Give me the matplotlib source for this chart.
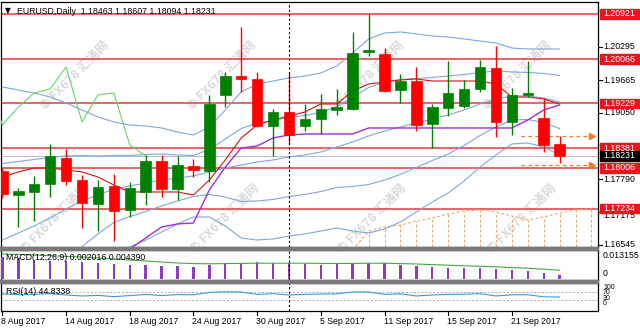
import numpy as np
import matplotlib
matplotlib.use("Agg")
import matplotlib.pyplot as plt
from matplotlib.patches import Rectangle
from matplotlib.transforms import blended_transform_factory as blend

# ---------------- data ----------------
date_labels = ["8 Aug 2017", "14 Aug 2017", "18 Aug 2017", "24 Aug 2017", "30 Aug 2017",
               "5 Sep 2017", "11 Sep 2017", "15 Sep 2017", "21 Sep 2017"]
date_idx = [0, 4, 8, 12, 16, 20, 24, 28, 32]

opens = [1.17947, 1.17492, 1.17549, 1.17700, 1.18193, 1.17776, 1.17321, 1.17662, 1.17208, 1.17549,
         1.18136, 1.17606, 1.18041, 1.17947, 1.19386, 1.19746, 1.19689, 1.18799, 1.19064, 1.18799,
         1.18931, 1.19102, 1.19121, 1.20200, 1.20162, 1.19481, 1.19651, 1.18837, 1.19140, 1.19178,
         1.19500, 1.19897, 1.18875, 1.19386, 1.18950, 1.18463]
highs = [1.18003, 1.17624, 1.17852, 1.18458, 1.18363, 1.17871, 1.17776, 1.17890, 1.17738, 1.18250,
         1.18250, 1.18231, 1.18174, 1.19386, 1.19822, 1.20674, 1.19822, 1.19121, 1.19803, 1.19215,
         1.19405, 1.19500, 1.20579, 1.20921, 1.20276, 1.19784, 1.19916, 1.19215, 1.20030, 1.19670,
         1.20049, 1.20314, 1.19519, 1.20030, 1.19329, 1.18607]
lows = [1.17435, 1.16886, 1.17000, 1.17454, 1.17681, 1.16867, 1.16810, 1.16621, 1.17075, 1.17302,
        1.17454, 1.17397, 1.17833, 1.17738, 1.19159, 1.19443, 1.18780, 1.18231, 1.18477, 1.18704,
        1.18647, 1.19007, 1.19102, 1.20125, 1.19443, 1.19234, 1.18704, 1.18382, 1.18988, 1.19140,
        1.19443, 1.18590, 1.18628, 1.19348, 1.18306, 1.18094]
closes = [1.17511, 1.17568, 1.17700, 1.18231, 1.17757, 1.17340, 1.17643, 1.17189, 1.17624, 1.18136,
          1.17606, 1.18060, 1.17966, 1.19215, 1.19746, 1.19689, 1.18799, 1.19064, 1.18628, 1.18931,
          1.19121, 1.19159, 1.20181, 1.20238, 1.19462, 1.19651, 1.18818, 1.19159, 1.19424, 1.19500,
          1.19916, 1.18875, 1.19386, 1.19424, 1.18439, 1.18231]

# Bollinger middle line and one standard deviation
bb_mid = [1.16640, 1.16772, 1.16905, 1.17056, 1.17227, 1.17378, 1.17492, 1.17606, 1.17662, 1.17719,
          1.17776, 1.17814, 1.17852, 1.17928, 1.18003, 1.18060, 1.18117, 1.18155, 1.18212, 1.18250,
          1.18306, 1.18401, 1.18496, 1.18609, 1.18704, 1.18780, 1.18856, 1.18931, 1.19007, 1.19102,
          1.19215, 1.19310, 1.19367, 1.19367, 1.19329, 1.19253]
bb_dev = [0.014489, 0.013542, 0.012595, 0.011458, 0.010038, 0.008617, 0.007386, 0.006345, 0.005777,
          0.005398, 0.004924, 0.004356, 0.003883, 0.004261, 0.005492, 0.006913, 0.007386, 0.007481,
          0.007481, 0.007481, 0.007481, 0.007670, 0.008428, 0.009186, 0.009280, 0.008996, 0.008428,
          0.007860, 0.007386, 0.006723, 0.005966, 0.005303, 0.004545, 0.004451, 0.004640, 0.005019]

tenkan = [1.17833, 1.17928, 1.18003, 1.18003, 1.17966, 1.17928, 1.17833, 1.17681, 1.17549, 1.17549,
          1.17549, 1.17549, 1.17492, 1.17776, 1.18155, 1.18572, 1.18818, 1.18912, 1.18988, 1.19064,
          1.19215, 1.19215, 1.19462, 1.19594, 1.19632, 1.19670, 1.19689, 1.19651, 1.19651, 1.19651,
          1.19651, 1.19594, 1.19348, 1.19348, 1.19310, 1.19215]
kijun_idx = list(range(7, 36))
kijun = [1.16223, 1.16469, 1.16678, 1.16886, 1.16943, 1.16962, 1.17587, 1.18023, 1.18382, 1.18420,
         1.18572, 1.18628, 1.18647, 1.18647, 1.18647, 1.18647, 1.18761, 1.18761, 1.18761, 1.18761,
         1.18761, 1.18761, 1.18761, 1.18761, 1.18761, 1.18761, 1.18912, 1.19102, 1.19197]
cloud_idx = list(range(22, 38))
cloud_top = [1.16450, 1.16810, 1.16886, 1.16924, 1.16999, 1.17056, 1.17132, 1.17189, 1.17208, 1.17170,
             1.17094, 1.17019, 1.17075, 1.17151, 1.17208, 1.17227]

macd_hist = [0.0110, 0.0105, 0.0095, 0.0090, 0.0090, 0.0085, 0.0080, 0.0075, 0.0070, 0.0070,
             0.0065, 0.0065, 0.0060, 0.0070, 0.0080, 0.0080, 0.0085, 0.0080, 0.0080, 0.0075,
             0.0070, 0.0075, 0.0080, 0.0080, 0.0080, 0.0070, 0.0065, 0.0060, 0.0055, 0.0055,
             0.0055, 0.0050, 0.0045, 0.0040, 0.0030, 0.002016]
macd_signal = [0.0125, 0.0123, 0.0120, 0.0117, 0.0113, 0.0110, 0.0105, 0.0100, 0.0095, 0.0090,
               0.0085, 0.0080, 0.0077, 0.0076, 0.0077, 0.0078, 0.0079, 0.0079, 0.0079, 0.0079,
               0.0078, 0.0078, 0.0078, 0.0079, 0.0079, 0.0077, 0.0075, 0.0072, 0.0069, 0.0066,
               0.0064, 0.0061, 0.0057, 0.0054, 0.0049, 0.00439]
rsi = [60, 57, 58, 62, 55, 50, 53, 47, 52, 58, 52, 57, 56, 68, 71, 70, 58, 62, 55, 58,
       60, 61, 70, 70, 58, 61, 50, 55, 58, 59, 62, 50, 56, 56, 46, 44.8338]

red_levels = [1.20921, 1.20066, 1.19229, 1.18381, 1.18006, 1.17234]
axis_ticks = [1.20295, 1.19665, 1.19050, 1.17790, 1.16545]
hidden_tick = 1.17175
bid = 1.18231
arrow_levels = [1.18607, 1.18060]
separator_idx = 18

# ---------------- style ----------------
W, H = 640, 330
FONT = "Liberation Sans"
FS = 6.3
plt.rcParams["font.family"] = [FONT, "DejaVu Sans"]

fig = plt.figure(figsize=(6.4, 3.3), dpi=100)
fig.patch.set_facecolor("white")

def fx(px):
    return px / W

def fy(py):
    return 1 - py / H

XL = (-0.088, 37.41)
ax = fig.add_axes([fx(1), fy(247), fx(597), 245 / H])
axm = fig.add_axes([fx(1), fy(280), fx(597), 30 / H])
axr = fig.add_axes([fx(1), fy(311), fx(597), 28 / H])
for a in (ax, axm, axr):
    a.set_facecolor("none")
    a.set_xlim(*XL)
    a.set_xticks([])
    a.set_yticks([])
    for s in a.spines.values():
        s.set_color("black")
        s.set_linewidth(0.9)

ax.set_ylim(1.16507, 1.21147)
axm.set_ylim(-0.0005, 0.0145)
axr.set_ylim(-25, 115)

# watermarks
wm_pos = [(75, 75), (222, 75), (370, 75), (517, 75), (55, 218), (225, 218), (372, 218), (522, 218)]
for (px, py) in wm_pos:
    fig.text(fx(px), fy(py), "© FX678 汇通网", rotation=45, ha="center", va="center",
             fontsize=9, fontweight="bold", color="#dadada",
             family=["Noto Sans CJK SC", "DejaVu Sans"], zorder=-5)

# panel separators
for y0 in (247, 280):
    fig.patches.append(Rectangle((0, fy(y0 + 3)), fx(598), 3 / H, transform=fig.transFigure,
                                 color="#7a7a7a", zorder=5))

x = np.arange(len(closes))
o = np.array(opens); c = np.array(closes); h = np.array(highs); l = np.array(lows)

# horizontal level lines
for lv in red_levels:
    ax.axhline(lv, color="#e03a3a", lw=1.1, zorder=2)
ax.axhline(bid, color="#b8c0cc", lw=0.8, zorder=2)

# cloud (upper span + hatching)
cloud_col = "#f0a868"
ax.plot(cloud_idx, cloud_top, color=cloud_col, lw=0.8, ls=(0, (2.5, 2)), zorder=2)
ax.vlines(cloud_idx, 1.150, cloud_top, color=cloud_col, lw=0.8, linestyles=(0, (2.5, 2)), zorder=2)

# Bollinger bands
mid = np.array(bb_mid); dev = np.array(bb_dev)
bcol = "#7ea7da"
for k in (-2, -1, 0, 1, 2):
    ax.plot(x, mid + k * dev, color=bcol, lw=0.8, zorder=3)

# Ichimoku lines
ax.plot(x, tenkan, color="#d21414", lw=0.8, zorder=3)
ax.plot(kijun_idx, kijun, color="#9b30d8", lw=1.0, zorder=3)
ax.plot(np.arange(-1, 10), closes[25:36], color="#66d666", lw=0.8, zorder=3)

# candles
up = c >= o
cols = np.where(up, "#008000", "#ff0000")
ax.vlines(x, l, h, colors=cols, lw=1.0, zorder=4)
body_lo = np.minimum(o, c)
body_h = np.maximum(np.abs(c - o), 0.00012)
ax.bar(x, body_h, bottom=body_lo, width=0.66, color=cols, edgecolor=cols, lw=0.5, zorder=5)

# dashed arrows
for lv in arrow_levels:
    ax.plot([32.6, 36.9], [lv, lv], color="#f07a28", lw=0.9, ls=(0, (3, 2.5)), zorder=4)
    ax.plot([37.05], [lv], marker=">", ms=4, color="#f07a28", mec="#f07a28", zorder=4, clip_on=False)

# period separator
for a in (ax, axm, axr):
    a.axvline(separator_idx, color="black", lw=0.8, ls=(0, (2, 2)), zorder=6)

# header
fig.text(fx(5), fy(11), "▼", fontsize=5.5, va="center", ha="left", family="DejaVu Sans")
fig.text(fx(17), fy(11), "EURUSD,Daily  1.18463 1.18607 1.18094 1.18231", fontsize=FS,
         va="center", ha="left")

# right axis labels (main)
bt = blend(fig.transFigure, ax.transData)
for t in axis_ticks + [hidden_tick]:
    ax.plot([fx(598), fx(602)], [t, t], transform=bt, color="black", lw=0.8, clip_on=False)
for t in axis_ticks:
    ax.text(fx(603), t, f"{t:.5f}", transform=bt, fontsize=FS, va="center", ha="left",
            clip_on=False, zorder=7)
# tick label partly hidden under the 1.17234 box: only its lower part shows
ht = fig.text(fx(603), fy(215.5), f"{hidden_tick:.5f}", fontsize=FS, va="center", ha="left",
              zorder=7)
clip_r = Rectangle((fx(598), fy(221)), fx(42), 7 / H, transform=fig.transFigure,
                   facecolor="none", edgecolor="none")
ht.set_clip_path(clip_r)

px_per_unit = 5280
bh = 9.5 / px_per_unit
for lv in red_levels:
    ax.add_patch(Rectangle((fx(600), lv - bh / 2), fx(40), bh, transform=bt, color="#e8141e",
                           clip_on=False, zorder=8))
    ax.text(fx(603), lv, f"{lv:.5f}", transform=bt, fontsize=FS, va="center", ha="left",
            color="white", clip_on=False, zorder=9)
ax.add_patch(Rectangle((fx(600), bid - bh / 2), fx(40), bh, transform=bt, color="black",
                       clip_on=False, zorder=8))
ax.text(fx(603), bid, f"{bid:.5f}", transform=bt, fontsize=FS, va="center", ha="left",
        color="white", clip_on=False, zorder=9)

# MACD
axm.bar(x, macd_hist, width=0.15, color="#8a3cc8", zorder=3)
axm.plot(x, macd_signal, color="#44a844", lw=0.8, zorder=4)
fig.text(fx(6), fy(258), "MACD(12,26,9) 0.002016 0.004390", fontsize=FS, va="center", ha="left")
fig.text(fx(603), fy(256), "0.013155", fontsize=FS, va="center", ha="left")
fig.text(fx(603), fy(273), "0", fontsize=FS, va="center", ha="left")

# RSI
for lv in (70, 30):
    axr.axhline(lv, color="#a8a8a8", lw=0.7, ls=(0, (2, 2)))
axr.plot(x, rsi, color="#3c9ad8", lw=0.8)
fig.text(fx(6), fy(292), "RSI(14) 44.8338", fontsize=FS, va="center", ha="left")
for lbl, py in (("100", 287.5), ("70", 292.8), ("30", 298.1), ("0", 303.4)):
    fig.text(fx(603), fy(py), lbl, fontsize=5.0, va="center", ha="left")

# date axis
dt = blend(axr.transData, fig.transFigure)
for i, lbl in zip(date_idx, date_labels):
    axr.plot([i, i], [fy(311), fy(315)], transform=dt, color="black", lw=0.8, clip_on=False)
    axr.text(i - 0.06, fy(321), lbl, transform=dt, fontsize=FS, va="center", ha="left",
             clip_on=False)

fig.savefig("out.png", dpi=100, facecolor="white")
